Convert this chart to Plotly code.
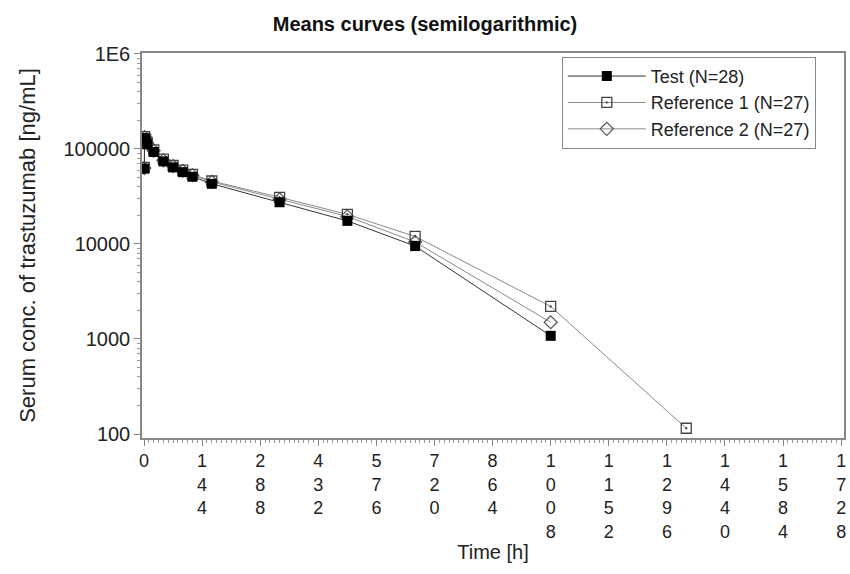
import plotly.graph_objects as go

times = [0.75, 1.5, 4, 8, 24, 48, 72, 96, 120, 168, 336, 504, 672, 1008, 1344]
test_vals = [62000, 130000, 122000, 112000, 93000, 74000, 64000, 57000, 51000, 43000, 27500, 17500, 9500, 1080, None]
ref1_vals = [64000, 135000, 127000, 117000, 98000, 78000, 67000, 60000, 54000, 46000, 31000, 20500, 12000, 2200, 115]
ref2_vals = [63000, 133000, 125000, 115000, 96000, 76000, 66000, 59000, 53000, 45000, 29500, 19500, 10500, 1500, None]

x_ticks = [0, 144, 288, 432, 576, 720, 864, 1008, 1152, 1296, 1440, 1584, 1728]
y_ticks = [100, 1000, 10000, 100000, 1000000]
y_tick_text = ["100", "1000", "10000", "100000", "1E6"]

FONT = "Liberation Sans, Arial, sans-serif"

fig = go.Figure()
fig.add_trace(go.Scatter(
    x=times, y=ref2_vals, name="Reference 2 (N=27)", mode="lines+markers",
    line=dict(color="#8a8a8a", width=1),
    marker=dict(symbol="diamond-open", size=10, color="#555555", line=dict(width=1.2)),
    connectgaps=False))
fig.add_trace(go.Scatter(
    x=times, y=ref1_vals, name="Reference 1 (N=27)", mode="lines+markers",
    line=dict(color="#8a8a8a", width=1),
    marker=dict(symbol="square-open-dot", size=10, color="#444444", line=dict(width=1.3))))
fig.add_trace(go.Scatter(
    x=times, y=test_vals, name="Test (N=28)", mode="lines+markers",
    line=dict(color="#333333", width=1),
    marker=dict(symbol="square", size=10, color="#000000"),
    connectgaps=False))

fig.update_layout(
    width=850, height=574,
    margin=dict(l=142, r=4, t=53, b=136),
    paper_bgcolor="white", plot_bgcolor="white",
    font=dict(family=FONT, size=20, color="#222222"),
    title=dict(text="<b>Means curves (semilogarithmic)</b>", x=0.5, xanchor="center",
               y=0.958, yanchor="middle", font=dict(size=20, family=FONT, color="#111111")),
    showlegend=True,
    legend=dict(x=0.598, y=0.99, xanchor="left", yanchor="top", traceorder="reversed",
                bgcolor="white", bordercolor="#888888", borderwidth=1,
                font=dict(size=18, family=FONT, color="#222222"),
                itemwidth=78, tracegroupgap=0),
)

fig.update_xaxes(
    range=[-5, 1735], tickmode="array", tickvals=x_ticks,
    ticktext=["<br>".join(list(str(v))) for v in x_ticks],
    ticks="outside", ticklen=6, tickcolor="#888888", showgrid=False, zeroline=False,
    showline=True, linecolor="#888888", linewidth=1.5, mirror=True,
    minor=dict(dtick=12, tick0=0, ticks="outside", ticklen=3, tickcolor="#999999", showgrid=False),
    title=dict(text="Time [h]", font=dict(size=20, family=FONT), standoff=4),
    tickfont=dict(size=18, family=FONT, color="#222222"),
)

minor_y = [m * 10 ** e for e in range(2, 6) for m in range(2, 10)]
fig.update_yaxes(
    type="log", range=[1.958, 6.01], tickmode="array", tickvals=y_ticks, ticktext=y_tick_text,
    ticks="outside", ticklen=6, tickcolor="#888888", showgrid=False, zeroline=False,
    showline=True, linecolor="#888888", linewidth=1.5, mirror=True,
    minor=dict(tickvals=minor_y, ticks="outside", ticklen=3, tickcolor="#999999", showgrid=False),
    title=dict(text="Serum conc. of trastuzumab [ng/mL]", font=dict(size=22, family=FONT), standoff=22),
    tickfont=dict(size=20, family=FONT, color="#222222"),
)

fig.write_html("out.html")
